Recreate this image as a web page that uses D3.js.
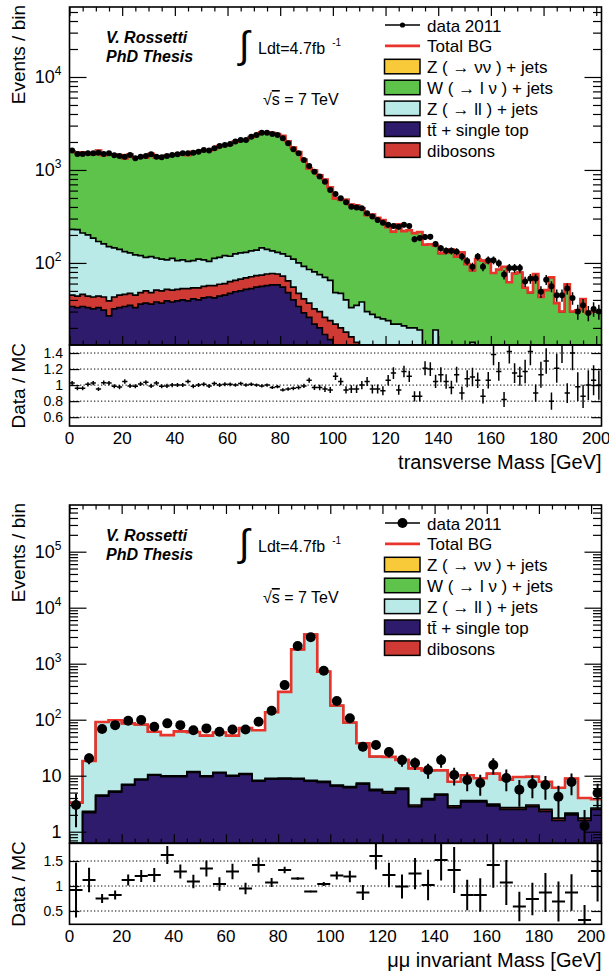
<!DOCTYPE html>
<html>
<head>
<meta charset="utf-8">
<script src="https://cdn.jsdelivr.net/npm/d3@7"></script>
<style>
  body { margin: 0; background: #fff; }
  svg { display: block; font-family: "Liberation Sans", Arial, Helvetica, sans-serif; }
</style>
</head>
<body>
<svg id="chart" width="609" height="978"></svg>
<script>
/* global d3 */

// ---- transverse mass, 2 GeV bins from 0 to 202 ----
const topEdges = d3.range(0, 204, 2);
const topData = [
  1615, 1486, 1486, 1510, 1510, 1535, 1486, 1510, 1439, 1415,
  1391, 1449, 1336, 1391, 1415, 1473, 1391, 1368, 1415, 1449,
  1473, 1510, 1510, 1535, 1573, 1641, 1615, 1710, 1811, 1857,
  1905, 2018, 2104, 2104, 2282, 2378, 2518, 2518, 2438, 2378,
  2193, 1936, 1668, 1510, 1280, 1100, 955, 850, 748, 610,
  550, 497, 450, 403, 395, 387, 342, 315, 290, 270,
  257, 250, 245, 257, 250, 180, 185, 190, 191, 160,
  144, 135, 135, 132, 117, 105, 91, 117, 91, 107,
  107, 99, 75, 88, 88, 88, 63, 68, 68, 49,
  66, 56, 45, 45, 53, 42, 30, 35, 29, 32,
  30];
const topRatio = [
  1.025, 0.96, 0.96, 1.01, 1.025, 0.95, 1.03, 1.025, 0.985, 0.975,
  1.045, 0.99, 0.985, 1.015, 1.035, 0.99, 1.025, 0.985, 0.99, 1.0,
  1.0, 1.0, 1.045, 0.985, 1.0, 1.01, 0.99, 1.02, 1.0, 1.01,
  1.01, 1.0, 1.02, 1.0, 1.01, 1.0, 0.99, 1.0, 0.97, 0.98,
  0.94, 0.95, 0.96, 0.97, 0.99, 1.06, 0.97, 0.97, 0.95, 0.94,
  1.11, 1.045, 0.94, 0.95, 0.95, 1.0, 1.045, 0.95, 0.95, 0.93,
  1.06, 1.15, 0.94, 1.17, 1.11, 0.86, 0.86, 1.21, 1.2, 1.045,
  1.13, 1.045, 0.97, 1.13, 0.9, 1.08, 1.1, 1.06, 0.86, 1.06,
  1.38, 1.17, 0.82, 1.42, 1.15, 1.11, 1.17, 1.42, 0.9, 1.13,
  1.3, 0.8, 1.21, 1.5, 0.9, 1.4, 0.98, 0.86, 1.0, 1.06,
  1.0];
const topRelErr = [
  .026, .026, .026, .026, .026, .026, .026, .026, .026, .026,
  .026, .026, .026, .026, .026, .026, .026, .026, .026, .026,
  .025, .025, .025, .025, .025, .025, .025, .025, .025, .025,
  .023, .022, .022, .022, .021, .021, .020, .020, .020, .021,
  .021, .023, .025, .026, .028, .030, .032, .034, .037, .040,
  .043, .045, .047, .050, .050, .051, .054, .056, .059, .061,
  .062, .063, .064, .062, .063, .075, .074, .073, .072, .079,
  .083, .086, .086, .087, .092, .098, .105, .092, .105, .097,
  .097, .100, .115, .107, .107, .107, .126, .121, .121, .143,
  .123, .134, .149, .149, .137, .154, .183, .169, .186, .177,
  .183];
const topTtbar = [
  34, 33, 34, 33, 32, 33, 31, 27, 32, 33,
  34, 35, 33, 36, 37, 36, 38, 37, 39, 38,
  39, 40, 39, 41, 40, 42, 43, 42, 44, 45,
  47, 49, 50, 52, 53, 55, 56, 57, 58, 58,
  55, 48, 40, 34, 29, 26, 22, 20, 17, 15,
  13, 11, 10, 8, 7, 6, 5, 4, 4, 3,
  3, 3, 2, 2, 2, 2, 2, 2, 2, 2,
  1, 1, 1, 1, 1, 1, 1, 1, 1, 1,
  1, 1, 1, 1, 1, 1, 1, 1, 1, 1,
  1, 1, 1, 1, 1, 1, 1, 1, 1, 1,
  1];
const topDiboson = [
  11, 11, 12, 11, 11, 11, 12, 12, 11, 12,
  12, 12, 12, 12, 13, 12, 13, 13, 13, 13,
  13, 13, 14, 13, 14, 14, 14, 15, 15, 15,
  16, 16, 17, 17, 18, 18, 18, 19, 19, 18,
  17, 16, 15, 13, 12, 11, 10, 10, 9, 9,
  9, 9, 8, 8, 7, 7, 6, 6, 5, 5,
  5, 4, 4, 4, 4, 3, 3, 3, 3, 3,
  2, 2, 2, 2, 2, 2, 2, 2, 2, 2,
  2, 2, 2, 2, 2, 2, 2, 2, 2, 2,
  2, 2, 2, 2, 2, 2, 2, 2, 2, 2,
  2];
const topZll = [
  185, 184, 164, 156, 142, 126, 117, 111, 102, 95,
  86, 81, 77, 72, 65, 69, 62, 60, 56, 61,
  54, 55, 51, 52, 56, 52, 47, 55, 56, 60,
  55, 60, 61, 61, 64, 64, 71, 64, 58, 54,
  53, 54, 55, 53, 51, 48, 48, 45, 44, 41,
  26, 27, 22, 17, 21, 25, 19, 18, 17, 17,
  16, 15, 16, 15, 14, 15, 14, 4, 3, 14,
  5, 4, 4, 3, 3, 3, 11, 9, 3, 3,
  3, 3, 3, 3, 3, 3, 3, 3, 3, 3,
  3, 3, 3, 3, 3, 3, 3, 3, 3, 3,
  3];
const topWlnu = [
  1346, 1320, 1338, 1295, 1288, 1446, 1283, 1323, 1316, 1311,
  1199, 1336, 1241, 1250, 1252, 1371, 1244, 1286, 1321, 1337,
  1367, 1402, 1341, 1460, 1463, 1517, 1527, 1564, 1696, 1719,
  1768, 1893, 1935, 1974, 2124, 2241, 2398, 2378, 2378, 2297,
  2208, 1920, 1628, 1457, 1201, 953, 905, 801, 717, 584,
  447, 429, 439, 391, 381, 349, 297, 304, 279, 265,
  218, 195, 239, 199, 205, 189, 196, 148, 151, 134,
  119, 122, 132, 111, 124, 91, 69, 98, 100, 95,
  72, 79, 85, 56, 71, 73, 48, 42, 70, 37,
  45, 64, 31, 24, 53, 24, 25, 35, 23, 24,
  24];

// ---- mu mu invariant mass, 5 GeV bins from 0 to 205 ----
const botEdges = d3.range(0, 210, 5);
const botData = [
  3.0, 20.5, 68, 80, 96, 99, 75, 86, 80, 65,
  70, 61, 67, 67, 92, 145, 415, 2070, 2960, 750,
  216, 106, 33, 35.4, 26.5, 19, 16.9, 12.6, 19, 10.3,
  8.4, 7.4, 15.5, 9.1, 5.6, 7.1, 6.8, 4.2, 7.7, 1.27,
  4.9];
const botRatio = [
  0.92, 1.12, 0.75, 0.82, 1.12, 1.2, 1.22, 1.62, 1.29, 1.09,
  1.35, 1.04, 1.29, 0.95, 1.42, 1.07, 1.32, 1.15, 0.89, 1.04,
  1.21, 1.19, 0.87, 1.6, 1.22, 0.99, 1.25, 1.02, 1.52, 1.32,
  0.82, 0.82, 1.42, 1.07, 0.59, 0.74, 0.87, 0.69, 0.87, 0.32,
  1.3];
const botRelErr = [
  0.6, 0.22, 0.12, 0.11, 0.10, 0.10, 0.115, 0.11, 0.11, 0.125,
  0.12, 0.13, 0.12, 0.12, 0.105, 0.083, 0.05, 0.022, 0.018, 0.037,
  0.068, 0.097, 0.17, 0.17, 0.2, 0.24, 0.25, 0.3, 0.27, 0.35,
  0.37, 0.41, 0.32, 0.42, 0.5, 0.44, 0.45, 0.58, 0.42, 0.93,
  0.47];
const botTtbar = [
  0.3, 2.2, 4.3, 5.1, 6.8, 8.4, 10.2, 9.6, 9.6, 11.5,
  9.6, 11.2, 9.8, 10.6, 8.0, 8.7, 8.8, 8.7, 8.0, 7.6,
  6.5, 6.1, 7.1, 5.4, 4.9, 5.7, 2.8, 3.7, 4.5, 2.7,
  3.4, 3.4, 2.9, 2.5, 2.5, 2.8, 2.3, 1.6, 2.0, 1.6,
  2.5];
const botDiboson = [
  0.05, 0.1, 0.2, 0.2, 0.2, 0.3, 0.3, 0.3, 0.3, 0.3,
  0.3, 0.3, 0.3, 0.3, 0.3, 0.3, 0.3, 0.3, 0.3, 0.3,
  0.3, 0.3, 0.3, 0.3, 0.3, 0.3, 0.2, 0.2, 0.2, 0.2,
  0.2, 0.2, 0.2, 0.2, 0.2, 0.2, 0.2, 0.15, 0.15, 0.15,
  0.15];
const botZll = [
  2.95, 16.0, 86.5, 92.7, 79, 73.3, 50.5, 43.1, 52.1, 48.2,
  42.1, 47.5, 41.9, 60.1, 56.7, 127, 305, 1791, 3318, 713,
  172, 82.6, 30.6, 16.3, 16.5, 13.2, 10.5, 8.5, 7.8, 4.9,
  6.6, 5.4, 7.8, 5.8, 6.8, 6.6, 5.3, 4.35, 6.75, 2.25,
  1.15];

const xMajor = d3.range(0, 201, 20);
const xMinor = d3.range(0, 201, 5).filter(v => v % 20 !== 0);

const colors = {
  znunu: '#f8c938',
  wlnu: '#5ec34b',
  zll: '#b9eae8',
  ttbar: '#2f1b6b',
  diboson: '#d03a34',
  total: '#e8342a'
};

const legendItems = [
  { label: 'data 2011', kind: 'data' },
  { label: 'Total BG', kind: 'line', color: colors.total },
  { label: 'Z ( \u2192 \u03bd\u03bd ) + jets', kind: 'box', color: colors.znunu },
  { label: 'W ( \u2192 l \u03bd ) + jets', kind: 'box', color: colors.wlnu },
  { label: 'Z ( \u2192 ll ) + jets', kind: 'box', color: colors.zll },
  { label: 'tt\u0304 + single top', kind: 'box', color: colors.ttbar },
  { label: 'dibosons', kind: 'box', color: colors.diboson }
];

const panels = [
  {
    edges: topEdges,
    layers: [
      { key: 'ttbar', color: colors.ttbar, values: topTtbar },
      { key: 'diboson', color: colors.diboson, values: topDiboson },
      { key: 'zll', color: colors.zll, values: topZll },
      { key: 'wlnu', color: colors.wlnu, values: topWlnu }
    ],
    data: topData, ratio: topRatio, relErr: topRelErr,
    xDomain: [0, 202], yDomain: [13.1, 56600],
    main: [7, 345], rat: [345, 426], ratDomain: [0.49, 1.5],
    ratTicks: [0.6, 0.8, 1, 1.2, 1.4],
    marker: 3, errWidth: 1.5, legendMarker: 2.6,
    title: 'transverse Mass [GeV]'
  },
  {
    edges: botEdges,
    layers: [
      { key: 'ttbar', color: colors.ttbar, values: botTtbar },
      { key: 'diboson', color: colors.diboson, values: botDiboson },
      { key: 'zll', color: colors.zll, values: botZll }
    ],
    data: botData, ratio: botRatio, relErr: botRelErr,
    xDomain: [0, 204], yDomain: [0.621, 682000],
    main: [505, 843.3], rat: [843.3, 924.3], ratDomain: [0.234, 1.854],
    ratTicks: [0.5, 1, 1.5],
    marker: 5, errWidth: 2, legendMarker: 5,
    title: '\u03bc\u03bc invariant Mass [GeV]'
  }
];

const svg = d3.select('#chart');
const defs = svg.append('defs');
const L = 69.5, R = 601.5;

function logTicks(domain) {
  const major = [], minor = [];
  for (let e = Math.floor(Math.log10(domain[0])); e <= Math.ceil(Math.log10(domain[1])); e++) {
    for (let k = 1; k < 10; k++) {
      const v = k * Math.pow(10, e);
      if (v < domain[0] || v > domain[1]) continue;
      (k === 1 ? major : minor).push(v);
    }
  }
  return { major, minor };
}

function render(p, idx) {
  const g = svg.append('g').attr('class', 'panel-' + idx);
  const x = d3.scaleLinear().domain(p.xDomain).range([L, R]);
  const y = d3.scaleLog().domain(p.yDomain).range([p.main[1], p.main[0]]).clamp(true);
  const yr = d3.scaleLinear().domain(p.ratDomain).range([p.rat[1], p.rat[0]]);
  const bins = d3.range(p.edges.length - 1);
  const safe = v => Math.max(v, 1e-4);

  defs.append('clipPath').attr('id', `main-${idx}`).append('rect')
    .attr('x', L).attr('y', p.main[0]).attr('width', R - L).attr('height', p.main[1] - p.main[0]);
  defs.append('clipPath').attr('id', `rat-${idx}`).append('rect')
    .attr('x', L).attr('y', p.rat[0]).attr('width', R - L).attr('height', p.rat[1] - p.rat[0]);

  // stacked backgrounds, drawn as cumulative histograms like THStack
  const rows = bins.map(i => Object.fromEntries(p.layers.map(l => [l.key, l.values[i]])));
  const series = d3.stack().keys(p.layers.map(l => l.key))(rows);
  const steps = vals => bins.flatMap(i => [[p.edges[i], vals[i]], [p.edges[i + 1], vals[i]]]);
  const area = d3.area().x(d => x(d[0])).y0(p.main[1]).y1(d => y(safe(d[1])));
  const line = d3.line().x(d => x(d[0])).y(d => y(safe(d[1])));

  const stackG = g.append('g').attr('clip-path', `url(#main-${idx})`);
  series.slice().reverse().forEach(s => {
    stackG.append('path').attr('d', area(steps(s.map(d => d[1])))).attr('fill', p.layers[s.index].color);
  });
  series.forEach(s => {
    stackG.append('path').attr('d', line(steps(s.map(d => d[1]))))
      .attr('fill', 'none').attr('stroke', '#000').attr('stroke-width', 1.7);
  });
  const total = series[series.length - 1].map(d => d[1]);
  stackG.append('path').attr('d', line(steps(total)))
    .attr('fill', 'none').attr('stroke', colors.total).attr('stroke-width', 2.6);

  // data points
  const pts = bins.map(i => ({
    lo: p.edges[i], hi: p.edges[i + 1], c: (p.edges[i] + p.edges[i + 1]) / 2,
    v: p.data[i], r: p.ratio[i], e: p.relErr[i]
  }));
  const dataG = g.append('g').attr('clip-path', `url(#main-${idx})`);
  dataG.selectAll('line').data(pts).join('line')
    .attr('x1', d => x(d.c)).attr('x2', d => x(d.c))
    .attr('y1', d => y(safe(d.v * (1 - d.e)))).attr('y2', d => y(d.v * (1 + d.e)))
    .attr('stroke', '#000').attr('stroke-width', p.errWidth);
  dataG.selectAll('circle').data(pts).join('circle')
    .attr('cx', d => x(d.c)).attr('cy', d => y(d.v)).attr('r', p.marker).attr('fill', '#000');

  // ratio panel
  g.append('g').selectAll('line').data(p.ratTicks).join('line')
    .attr('x1', L).attr('x2', R).attr('y1', d => yr(d)).attr('y2', d => yr(d))
    .attr('stroke', '#000').attr('stroke-width', 1).attr('stroke-dasharray', '1.3,2.2');
  const crossG = g.append('g').attr('clip-path', `url(#rat-${idx})`)
    .attr('stroke', '#000').attr('stroke-width', p.errWidth);
  crossG.selectAll('line.h').data(pts).join('line').attr('class', 'h')
    .attr('x1', d => x(d.lo)).attr('x2', d => x(d.hi))
    .attr('y1', d => yr(d.r)).attr('y2', d => yr(d.r));
  crossG.selectAll('line.v').data(pts).join('line').attr('class', 'v')
    .attr('x1', d => x(d.c)).attr('x2', d => x(d.c))
    .attr('y1', d => yr(d.r * (1 - d.e))).attr('y2', d => yr(d.r * (1 + d.e)));

  // frames
  [p.main, p.rat].forEach(f => {
    g.append('rect').attr('x', L).attr('y', f[0]).attr('width', R - L).attr('height', f[1] - f[0])
      .attr('fill', 'none').attr('stroke', '#000').attr('stroke-width', 1.6);
  });

  // ticks on all sides, pointing inwards
  const yt = logTicks(p.yDomain);
  const ticks = (axis, tx, ty) => g.append('g').attr('transform', `translate(${tx},${ty})`)
    .call(axis.tickFormat(''))
    .call(s => s.select('.domain').remove())
    .call(s => s.selectAll('line').attr('stroke', '#000').attr('stroke-width', 1.2));
  ticks(d3.axisLeft(y).tickValues(yt.major).tickSize(-17), L, 0);
  ticks(d3.axisLeft(y).tickValues(yt.minor).tickSize(-8.5), L, 0);
  ticks(d3.axisRight(y).tickValues(yt.major).tickSize(-17), R, 0);
  ticks(d3.axisRight(y).tickValues(yt.minor).tickSize(-8.5), R, 0);
  ticks(d3.axisTop(x).tickValues(xMajor).tickSize(-9), 0, p.main[0]);
  ticks(d3.axisTop(x).tickValues(xMinor).tickSize(-4.5), 0, p.main[0]);
  ticks(d3.axisBottom(x).tickValues(xMajor).tickSize(-9), 0, p.main[1]);
  ticks(d3.axisBottom(x).tickValues(xMinor).tickSize(-4.5), 0, p.main[1]);
  ticks(d3.axisLeft(yr).tickValues(p.ratTicks).tickSize(-10), L, 0);
  ticks(d3.axisRight(yr).tickValues(p.ratTicks).tickSize(-10), R, 0);

  // tick labels
  const yl = g.append('g').attr('font-size', 18).attr('text-anchor', 'end').attr('fill', '#000');
  yt.major.forEach(v => {
    const e = Math.round(Math.log10(v));
    const t = yl.append('text').attr('x', 61.5).attr('y', y(v) + 6.5);
    if (e <= 1) {
      t.text(v);
    } else {
      t.text('10');
      t.append('tspan').attr('dy', -8).attr('font-size', 12).text(e);
    }
  });
  g.append('g').attr('font-size', 14).attr('text-anchor', 'end')
    .selectAll('text').data(p.ratTicks).join('text')
    .attr('x', 63).attr('y', d => yr(d) + 5).text(d => d);
  g.append('g').attr('font-size', 17).attr('text-anchor', 'middle')
    .selectAll('text').data(xMajor).join('text')
    .attr('x', d => x(d)).attr('y', p.rat[1] + 17.5).text(d => d);

  // axis titles
  g.append('text').attr('transform', `translate(25,${p.main[0] - 2}) rotate(-90)`)
    .attr('text-anchor', 'end').attr('font-size', 19).text('Events / bin');
  g.append('text').attr('transform', `translate(25,${p.rat[0] - 2}) rotate(-90)`)
    .attr('text-anchor', 'end').attr('font-size', 19).text('Data / MC');
  g.append('text').attr('x', R).attr('y', p.rat[1] + 43).attr('text-anchor', 'end')
    .attr('font-size', 20).text(p.title);

  // labels inside the frame
  const top = p.main[0];
  g.append('text').attr('x', 106).attr('y', top + 36).attr('font-size', 16)
    .attr('font-weight', 'bold').attr('font-style', 'italic').text('V. Rossetti');
  g.append('text').attr('x', 106).attr('y', top + 55).attr('font-size', 16)
    .attr('font-weight', 'bold').attr('font-style', 'italic').text('PhD Thesis');
  g.append('text').attr('x', 239).attr('y', top + 51).attr('font-size', 38)
    .attr('font-family', '"DejaVu Sans", sans-serif').attr('font-weight', 200).text('\u222b');
  const lum = g.append('text').attr('x', 258).attr('y', top + 46.5).attr('font-size', 16).text('Ldt=4.7fb');
  lum.append('tspan').attr('dx', 7).attr('dy', -8).attr('font-size', 10).text('-1');
  const rs = g.append('text').attr('x', 263).attr('y', top + 98).attr('font-size', 16).text('\u221a');
  rs.append('tspan').style('text-decoration', 'overline').text('s');
  rs.append('tspan').text(' = 7 TeV');

  // legend
  const lg = g.append('g');
  legendItems.forEach((it, k) => {
    const cy = top + 18 + k * 20.9;
    if (it.kind === 'data') {
      lg.append('line').attr('x1', 385).attr('x2', 420).attr('y1', cy).attr('y2', cy)
        .attr('stroke', '#000').attr('stroke-width', 1.5);
      lg.append('circle').attr('cx', 402.5).attr('cy', cy).attr('r', p.legendMarker).attr('fill', '#000');
    } else if (it.kind === 'line') {
      lg.append('line').attr('x1', 385).attr('x2', 420).attr('y1', cy).attr('y2', cy)
        .attr('stroke', it.color).attr('stroke-width', 2.6);
    } else {
      lg.append('rect').attr('x', 384.5).attr('y', cy - 7.5).attr('width', 35.5).attr('height', 14.5)
        .attr('fill', it.color).attr('stroke', '#000').attr('stroke-width', 1.5);
    }
    lg.append('text').attr('x', 427).attr('y', cy + 6.5).attr('font-size', 17).text(it.label);
  });
}

panels.forEach(render);
</script>
</body>
</html>
